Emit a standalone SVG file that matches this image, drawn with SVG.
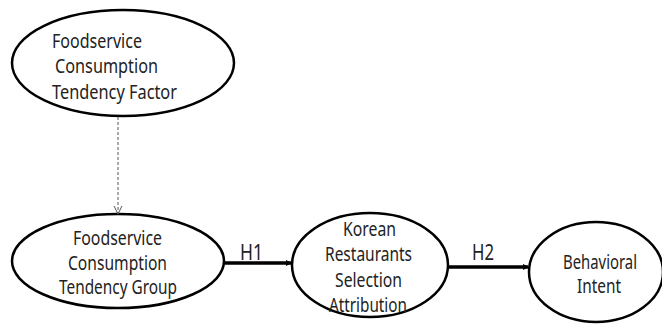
<svg xmlns="http://www.w3.org/2000/svg" width="662" height="324" viewBox="0 0 662 324">
<style>
.node ellipse{fill:#fff;stroke:#000;stroke-width:2.5}
.node text{font-family:"Noto Sans","DejaVu Sans",sans-serif;font-size:19px;fill:#222}
.lbl{font-family:"Noto Sans","DejaVu Sans",sans-serif;font-size:21px;fill:#222}
.solid{stroke:#000;stroke-width:3.5;fill:none}
.dash{stroke:#555;stroke-width:1;stroke-dasharray:3,2;fill:none}
</style>
<defs>
<marker id="ah" markerWidth="6" markerHeight="6" refX="5" refY="3" orient="auto" markerUnits="userSpaceOnUse">
<path d="M0,0 L6,3 L0,6 Z" fill="#000"/>
</marker>
<marker id="ov" markerWidth="10" markerHeight="10" refX="9" refY="5" orient="auto" markerUnits="userSpaceOnUse">
<path d="M1,1 L9,5 L1,9" fill="none" stroke="#555" stroke-width="1"/>
</marker>
</defs>
<g id="n1" class="node">
<ellipse cx="123" cy="63" rx="111" ry="53"/>
<text x="52" y="48" textLength="90" lengthAdjust="spacingAndGlyphs">Foodservice</text>
<text x="55" y="73" textLength="103" lengthAdjust="spacingAndGlyphs">Consumption</text>
<text x="52" y="99" textLength="125" lengthAdjust="spacingAndGlyphs">Tendency  Factor</text>
</g>
<g id="n2" class="node">
<ellipse cx="118" cy="261" rx="106" ry="47"/>
<text x="73" y="245" textLength="89" lengthAdjust="spacingAndGlyphs">Foodservice</text>
<text x="68" y="270" textLength="99" lengthAdjust="spacingAndGlyphs">Consumption</text>
<text x="59" y="294" textLength="118" lengthAdjust="spacingAndGlyphs">Tendency Group</text>
</g>
<g id="n3" class="node">
<ellipse cx="370" cy="265" rx="78" ry="52"/>
<text x="343" y="236" textLength="53" lengthAdjust="spacingAndGlyphs">Korean</text>
<text x="325" y="261" textLength="87" lengthAdjust="spacingAndGlyphs">Restaurants</text>
<text x="335" y="287" textLength="67" lengthAdjust="spacingAndGlyphs">Selection</text>
<text x="329" y="312" textLength="78" lengthAdjust="spacingAndGlyphs">Attribution</text>
</g>
<g id="n4" class="node">
<ellipse cx="596" cy="272" rx="67" ry="50"/>
<text x="563" y="269" textLength="74" lengthAdjust="spacingAndGlyphs">Behavioral</text>
<text x="577" y="293" textLength="44" lengthAdjust="spacingAndGlyphs">Intent</text>
</g>
<g id="edges">
<line class="dash" x1="118" y1="117" x2="118" y2="214" marker-end="url(#ov)"/>
<line class="solid" x1="225" y1="263" x2="291" y2="263" marker-end="url(#ah)"/>
<text class="lbl" x="240" y="260" textLength="23" lengthAdjust="spacingAndGlyphs">H1</text>
<line class="solid" x1="449" y1="267" x2="528" y2="267" marker-end="url(#ah)"/>
<text class="lbl" x="472" y="260" textLength="22" lengthAdjust="spacingAndGlyphs">H2</text>
</g>
</svg>
